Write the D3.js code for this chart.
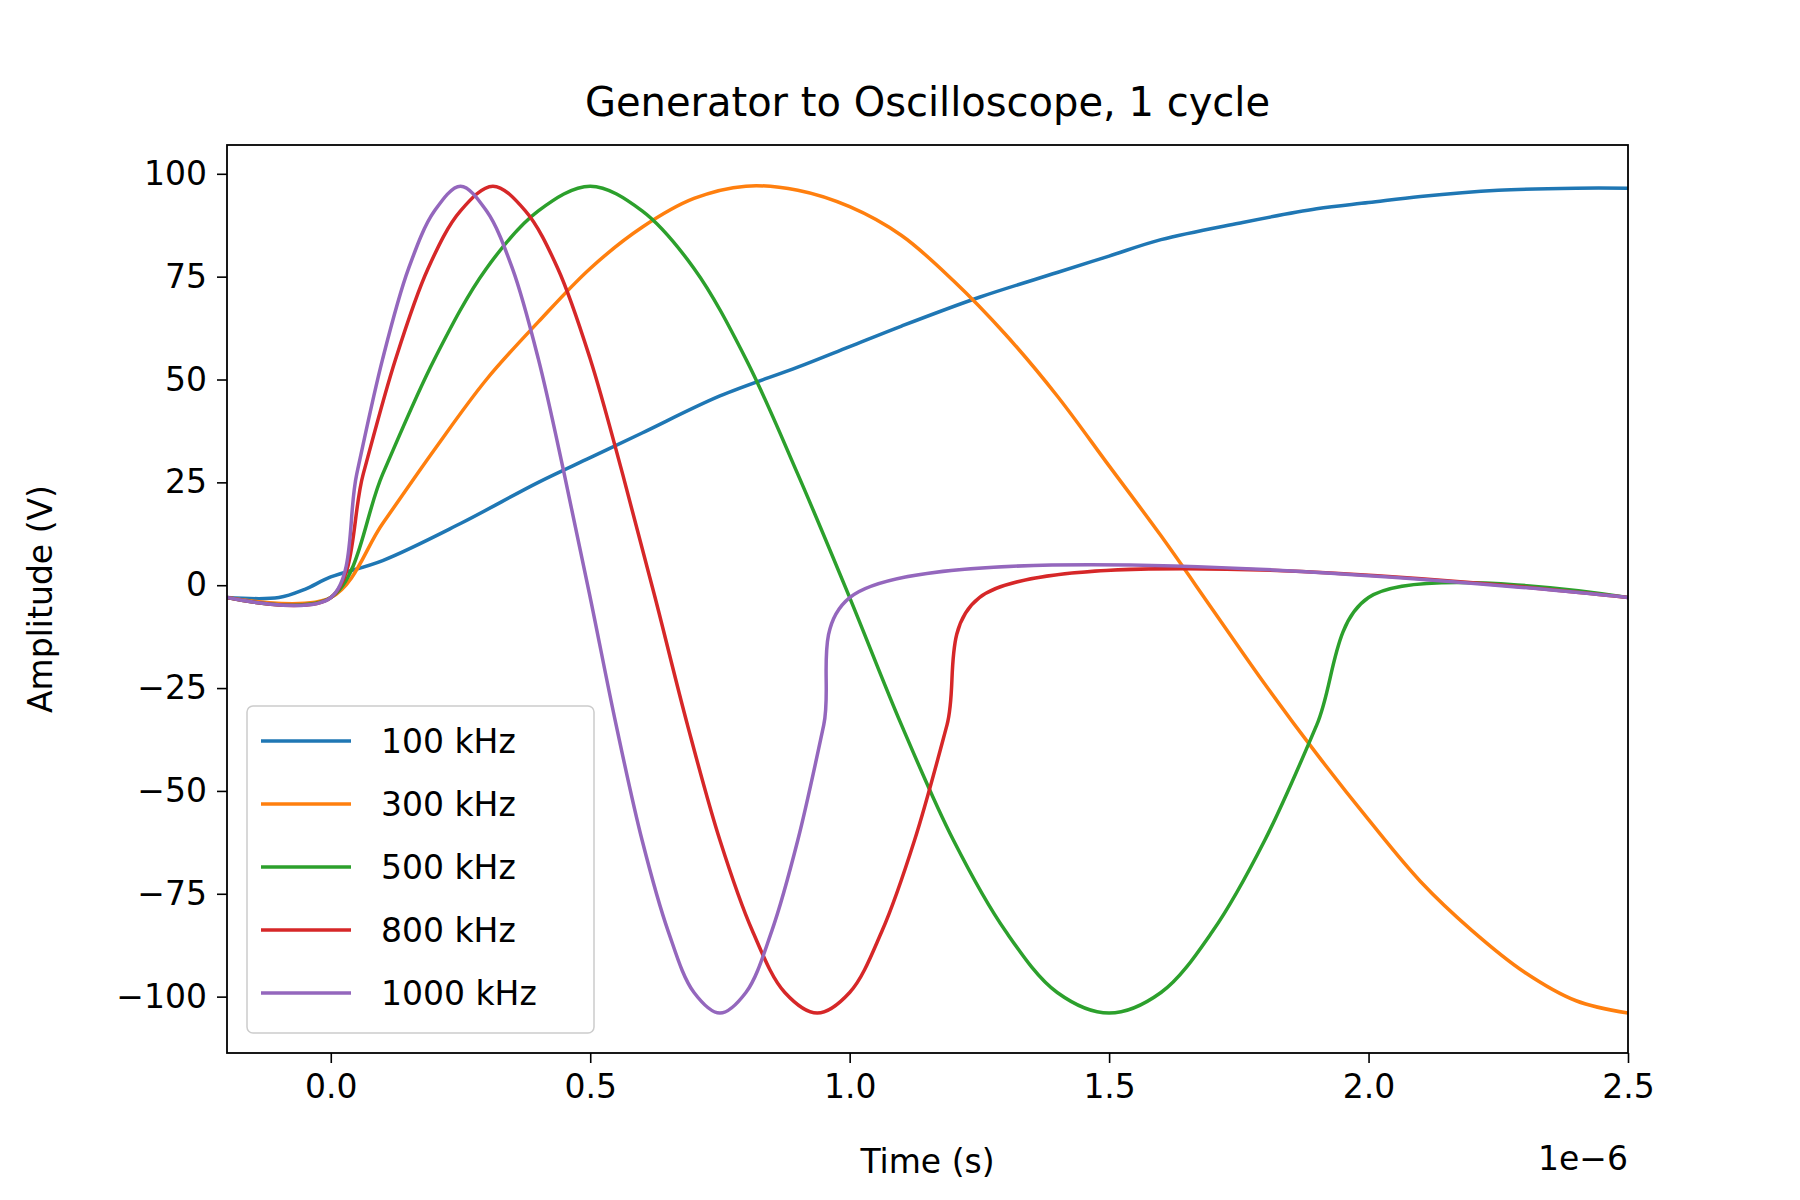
<!DOCTYPE html>
<html><head><meta charset="utf-8">
<script src="https://cdn.jsdelivr.net/npm/d3@7"></script>
<style>body{margin:0;background:#fff}text{font-family:"DejaVu Sans",sans-serif}</style>
</head><body><div id="chart"></div>
<script>
// time in microseconds, amplitude in volts
const seriesNames = ["100 kHz","300 kHz","500 kHz","800 kHz","1000 kHz"];
const colors = ["#1f77b4","#ff7f0e","#2ca02c","#d62728","#9467bd"];
const xTicks = [0,0.5,1,1.5,2,2.5];
const yTicks = [-100,-75,-50,-25,0,25,50,75,100];

const s100 = [[-0.2,-3],[-0.1,-3],[-0.05,-1],[0,2],[0.1,6],[0.25,15],[0.4,25],[0.5,31],[0.6,37],[0.75,46],[0.9,53],[1.0,58],[1.1,63],[1.25,70],[1.4,76],[1.5,80],[1.6,84],[1.75,88],[1.9,91.5],[2.0,93],[2.1,94.5],[2.25,96],[2.4,96.5],[2.5,96.5]];
const s300 = [[-0.2,-3],[0,-3],[0.1,15],[0.2,33],[0.3,50],[0.4,64],[0.5,77],[0.6,87],[0.7,94],[0.8,97],[0.9,96],[1.0,92],[1.1,85],[1.2,74],[1.3,61],[1.4,46],[1.5,29],[1.6,12],[1.7,-6],[1.8,-24],[1.9,-41],[2.0,-57],[2.1,-72],[2.2,-84],[2.3,-94],[2.4,-101],[2.5,-104]];
const s500 = [[-0.2,-3],[0,-3],[0.1,27],[0.2,55],[0.3,77],[0.4,91],[0.5,97],[0.6,91],[0.7,77],[0.8,55],[0.9,27],[1.0,-3],[1.1,-34],[1.2,-62],[1.3,-84],[1.4,-99],[1.5,-104],[1.6,-99],[1.7,-84],[1.8,-62],[1.9,-34],[2.0,-3],[2.5,-3]];
const s800 = [[-0.2,-3],[0,-3],[0.0625,27],[0.125,55],[0.1875,77],[0.25,91],[0.3125,97],[0.375,91],[0.4375,77],[0.5,55],[0.5625,27],[0.625,-3],[0.6875,-34],[0.75,-62],[0.8125,-84],[0.875,-99],[0.9375,-104],[1.0,-99],[1.0625,-84],[1.125,-62],[1.1875,-34],[1.25,-3],[2.5,-3]];
const s1000 = [[-0.2,-3],[0,-3],[0.05,27],[0.1,55],[0.15,77],[0.2,91],[0.25,97],[0.3,91],[0.35,77],[0.4,55],[0.45,27],[0.5,-3],[0.55,-34],[0.6,-62],[0.65,-84],[0.7,-99],[0.75,-104],[0.8,-99],[0.85,-84],[0.9,-62],[0.95,-34],[1.0,-3],[2.5,-3]];
const allSeries = [s100,s300,s500,s800,s1000];

const W = 1800, H = 1200;
const margin = {left:227, right:172, top:145, bottom:147};
const width = W - margin.left - margin.right, height = H - margin.top - margin.bottom;

const svg = d3.select("#chart").append("svg").attr("width",W).attr("height",H);
const g = svg.append("g").attr("transform",`translate(${margin.left},${margin.top})`);

const x = d3.scaleLinear().domain([-0.2,2.5]).range([0,width]);
const y = d3.scaleLinear().domain([-113.7,107]).range([height,0]);

g.append("defs").append("clipPath").attr("id","clip").append("rect").attr("width",width).attr("height",height);

const line = d3.line().x(d=>x(d[0])).y(d=>y(d[1])).curve(d3.curveCatmullRom);
allSeries.forEach((d,i)=>{
  g.append("path").datum(d).attr("clip-path","url(#clip)")
    .attr("fill","none").attr("stroke",colors[i]).attr("stroke-width",3.5)
    .attr("d",line);
});

const xAxis = g.append("g").attr("transform",`translate(0,${height})`)
  .call(d3.axisBottom(x).tickValues(xTicks).tickFormat(d3.format(".1f")).tickSize(10).tickPadding(12));
const yAxis = g.append("g")
  .call(d3.axisLeft(y).tickValues(yTicks).tickSize(10).tickPadding(10));
[xAxis,yAxis].forEach(a=>{
  a.selectAll("text").style("font-size","33px").attr("fill","#000");
  a.selectAll("line").attr("stroke","#000").attr("stroke-width",1.6);
  a.select(".domain").remove();
});
g.append("rect").attr("width",width).attr("height",height).attr("fill","none").attr("stroke","#000").attr("stroke-width",1.8);

svg.append("text").attr("x",margin.left+width/2).attr("y",116).attr("text-anchor","middle").style("font-size","40px").text("Generator to Oscilloscope, 1 cycle");
svg.append("text").attr("x",margin.left+width/2).attr("y",1173).attr("text-anchor","middle").style("font-size","33px").text("Time (s)");
svg.append("text").attr("transform",`translate(52,${margin.top+height/2}) rotate(-90)`).attr("text-anchor","middle").style("font-size","33px").text("Amplitude (V)");
svg.append("text").attr("x",margin.left+width).attr("y",1170).attr("text-anchor","end").style("font-size","33px").text("1e\u22126");

// legend
const lg = svg.append("g").attr("transform","translate(247,706)");
lg.append("rect").attr("width",347).attr("height",327).attr("rx",6).attr("fill","#fff").attr("fill-opacity",0.8).attr("stroke","#ccc").attr("stroke-width",1.5);
seriesNames.forEach((n,i)=>{
  const yy = 35 + i*63;
  lg.append("line").attr("x1",14).attr("x2",104).attr("y1",yy).attr("y2",yy).attr("stroke",colors[i]).attr("stroke-width",3.5);
  lg.append("text").attr("x",134).attr("y",yy+12).style("font-size","33px").text(n);
});
</script></body></html>
